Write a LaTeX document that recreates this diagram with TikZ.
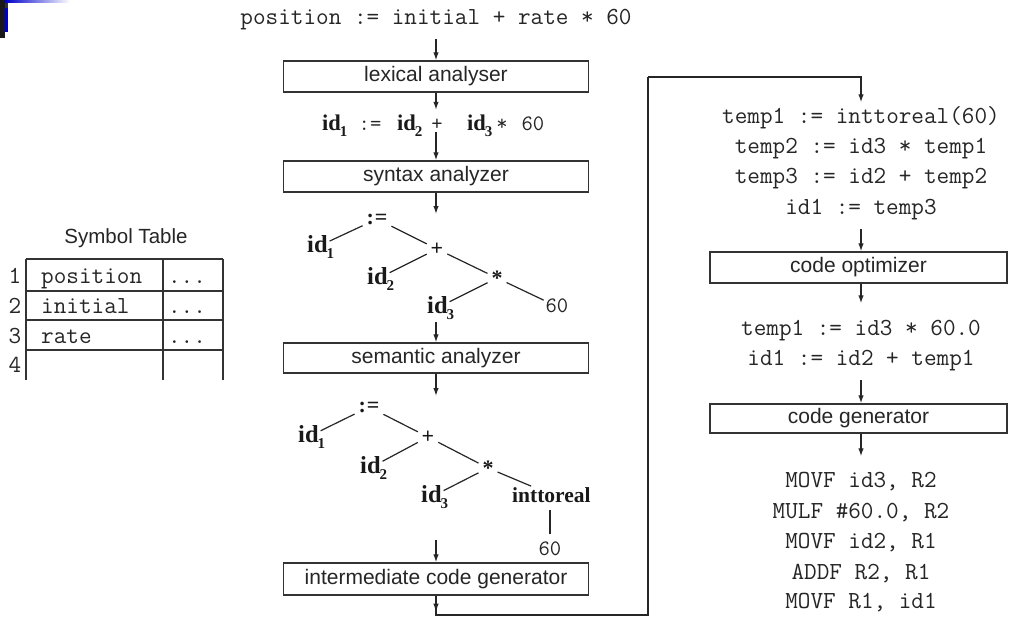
\documentclass[tikz,border=0pt]{standalone}
\usepackage{fontspec}
\newfontfamily\boxsans{Liberation Sans}
\newfontfamily\boldserif{Liberation Serif}
\usetikzlibrary{arrows.meta}

% identifier with a lowered subscript that does not widen the node
\newcommand{\idsub}[2][15]{id\rlap{\kern-1pt\raisebox{-6.5pt}{\fontsize{#1}{#1}\selectfont #2}}}

\tikzset{
  stage/.style={draw=black!80, line width=1.4pt, minimum width=305pt,
    minimum height=31pt, inner sep=0pt, text=black!85,
    font=\boxsans\fontsize{21}{25}\selectfont},
  code/.style={font=\ttfamily\fontsize{24.5}{28}\selectfont, text=black!85,
    inner sep=0pt, text height=17.5pt, text depth=5pt, anchor=base},
  smallcode/.style={code, font=\ttfamily\fontsize{22}{26}\selectfont,
    text height=15pt, text depth=4pt},
  ident/.style={font=\boldserif\bfseries\fontsize{24.5}{30}\selectfont,
    inner sep=0pt, anchor=base west, text=black!90},
  lineident/.style={ident, font=\boldserif\bfseries\fontsize{22.5}{30}\selectfont},
  treeop/.style={font=\boldserif\bfseries\fontsize{22}{26}\selectfont,
    inner sep=2pt, text=black!90},
  flow/.style={line width=1.3pt, draw=black!85,
    -{Latex[length=8pt,width=5.5pt]}},
  wire/.style={line width=1.3pt, draw=black!85},
  branch/.style={line width=1.2pt, draw=black!85, shorten <=2pt, shorten >=2pt},
  grid/.style={line width=1.2pt, draw=black!80},
}

\begin{document}
\begin{tikzpicture}[x=1pt, y=-1pt]
\useasboundingbox (0,0) rectangle (1010,618);
\fill[white] (0,0) rectangle (1010,618);

% slide corner ornament
\fill[black!90] (0,0) rectangle (5,38);
\fill[black!80] (5,3) rectangle (8,8);
\fill[blue!80!black] (5,8) rectangle (8,32);
\shade[left color=blue!80!black, right color=white] (5,0) rectangle (70,3);

% ---------------- symbol table ----------------
\node[font=\boxsans\fontsize{20.5}{24}\selectfont, anchor=base, text=black!85]
  (symtitle) at (126,243) {Symbol Table};
\foreach \y in {259,291,320,350} \draw[grid] (26,\y) -- (223,\y);
\foreach \x in {26,163,223} \draw[grid] (\x,259) -- (\x,380);
\node[code] (row1) at (15,283) {1};
\node[code] (row2) at (15,313) {2};
\node[code] (row3) at (15,343) {3};
\node[code] (row4) at (15,372) {4};
\node[code, anchor=base west] (ent1) at (41,283) {position};
\node[code, anchor=base west] (ent2) at (41,313) {initial};
\node[code, anchor=base west] (ent3) at (41,343) {rate};
\node[code] (att1) at (187,283) {...};
\node[code] (att2) at (187,313) {...};
\node[code] (att3) at (187,343) {...};

% ---------------- front end ----------------
\node[code] (src) at (436,25) {position := initial + rate * 60};
\node[stage] (lex) at (436,76.5) {lexical analyser};
\draw[flow, shorten <=9pt] (src.south) -- (lex.north);

% token stream
\node[lineident] (l1) at (322,130) {\idsub{1}};
\node[smallcode] (lasg) at (370,130) {:=};
\node[lineident] (l2) at (397,130) {\idsub{2}};
\node[smallcode] (lplus) at (437,130) {+};
\node[lineident] (l3) at (467,130) {\idsub{3}};
\node[smallcode] (lmul) at (502,130) {*};
\node[smallcode] (lsixty) at (533,130) {60};

\node[stage] (syn) at (436,176.5) {syntax analyzer};
\draw[flow, shorten >=5pt] (lex.south) -- (lex.south |- lplus.north);
\draw[flow, shorten <=-2pt] (syn.north |- lplus.south) -- (syn.north);

% syntax tree
\coordinate (t1in) at (436,214);
\coordinate (t1out) at (436,322);
\draw[flow] (syn.south) -- (t1in);
\node[treeop] (a1) at (377,219) {:\kern1pt=};
\node[ident] (a1id1) at (307,252) {\idsub{1}};
\node[treeop] (a1plus) at (437,249) {+};
\node[ident] (a1id2) at (367,284) {\idsub{2}};
\node[treeop] (a1mul) at (497,278) {*};
\node[ident] (a1id3) at (427,313) {\idsub{3}};
\node[smallcode] (a1sixty) at (557,312) {60};
\draw[branch] (a1) -- (a1id1);
\draw[branch] (a1) -- (a1plus);
\draw[branch] (a1plus) -- (a1id2);
\draw[branch] (a1plus) -- (a1mul);
\draw[branch] (a1mul) -- (a1id3);
\draw[branch] (a1mul) -- (a1sixty);

\node[stage, minimum height=30pt] (sem) at (436,358) {semantic analyzer};
\draw[flow] (t1out) -- (sem.north);

% annotated syntax tree
\coordinate (t2in) at (436,396);
\coordinate (t2out) at (436,540);
\draw[flow] (sem.south) -- (t2in);
\node[treeop] (b1) at (369,407) {:\kern1pt=};
\node[ident] (b1id1) at (298,442) {\idsub{1}};
\node[treeop] (b1plus) at (428,437) {+};
\node[ident] (b1id2) at (360,473) {\idsub{2}};
\node[treeop] (b1mul) at (488,468) {*};
\node[ident] (b1id3) at (421,502) {\idsub{3}};
\node[ident, font=\boldserif\bfseries\fontsize{21.5}{26}\selectfont] (b1conv) at (512,502) {inttoreal};
\node[smallcode] (b1sixty) at (550,555) {60};
\draw[branch] (b1) -- (b1id1);
\draw[branch] (b1) -- (b1plus);
\draw[branch] (b1plus) -- (b1id2);
\draw[branch] (b1plus) -- (b1mul);
\draw[branch] (b1mul) -- (b1id3);
\draw[branch] (b1mul) -- (b1conv);
\draw[wire, shorten <=8pt, shorten >=6pt] (b1conv.south -| b1sixty) -- (b1sixty.north);

\node[stage, minimum height=32pt] (icg) at (436,579) {intermediate code generator};
\draw[flow] (t2out) -- (icg.north);

% hand-over to the back end
\coordinate (lowturn) at (648,615);
\coordinate (highturn) at (648,77);
\draw[flow] (icg.south) -- ++(0,16);
\draw[wire] (icg.south) |- (lowturn) -- (highturn);

% ---------------- back end ----------------
\node[code] (tac1) at (861,123) {temp1 := inttoreal(60)};
\node[code] (tac2) at (861,153) {temp2 := id3 * temp1};
\node[code] (tac3) at (861,183) {temp3 := id2 + temp2};
\node[code] (tac4) at (861,214) {id1 := temp3};
\draw[flow, shorten >=3pt] (highturn) -| (tac1.north);

\node[stage, minimum width=297pt] (opt) at (858.5,267.5) {code optimizer};
\draw[flow, shorten <=10pt] (tac4.south) -- (tac4.south |- opt.north);

\node[code] (opt1) at (861,335) {temp1 := id3 * 60.0};
\node[code] (opt2) at (861,365) {id1 := id2 + temp1};
\draw[flow, shorten >=14pt] (opt.south -| opt1) -- (opt1.north);

\node[stage, minimum width=297pt, minimum height=29pt] (gen) at (858.5,418.5) {code generator};
\draw[flow, shorten <=10pt] (opt2.south) -- (opt2.south |- gen.north);

\node[code] (asm1) at (861,487) {MOVF id3, R2};
\node[code] (asm2) at (861,518) {MULF \#60.0, R2};
\node[code] (asm3) at (861,548) {MOVF id2, R1};
\node[code] (asm4) at (861,579) {ADDF R2, R1};
\node[code] (asm5) at (861,608) {MOVF R1, id1};
\draw[flow, shorten >=13pt] (gen.south -| asm1) -- (asm1.north);
\end{tikzpicture}
\end{document}
